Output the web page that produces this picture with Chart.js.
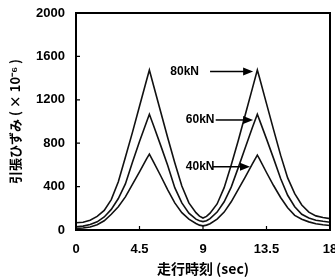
<!DOCTYPE html>
<html>
<head>
<meta charset="utf-8">
<script src="https://cdn.jsdelivr.net/npm/chart.js@4.4.1/dist/chart.umd.min.js"></script>
<style>
  html, body { margin: 0; padding: 0; background: #fff; }
  #wrap { width: 335px; height: 279px; }
</style>
</head>
<body>
<div id="wrap"><canvas id="chart" width="335" height="279"></canvas></div>
<script>
// running time (sec)
const times = [0, 0.5, 1, 1.5, 2, 2.5, 3, 3.5, 4, 4.5, 5, 5.2, 5.5, 6, 6.5, 7, 7.5, 8, 8.5, 8.75,
    9, 9.25, 9.5, 10, 10.5, 11, 11.5, 12, 12.5, 12.85, 13, 13.5, 14, 14.5, 15, 15.5, 16, 16.5, 17, 17.5, 18];
// tensile strain (x10^-6)
const strain80 = [67, 72, 90, 125, 180, 280, 445, 670, 900, 1140, 1380, 1475, 1330, 1090, 850, 620, 405, 250, 160, 128,
    110, 125, 155, 240, 390, 600, 825, 1065, 1305, 1475, 1405, 1165, 925, 690, 480, 335, 230, 165, 130, 115, 105];
const strain60 = [30, 36, 50, 75, 120, 190, 290, 425, 625, 815, 995, 1066, 960, 780, 595, 390, 250, 155, 100, 86,
    77, 85, 105, 165, 260, 395, 575, 760, 945, 1066, 1015, 840, 660, 475, 320, 215, 145, 110, 90, 80, 72];
const strain40 = [15, 18, 28, 48, 85, 145, 215, 305, 420, 535, 655, 700, 625, 500, 370, 250, 160, 100, 60, 45,
    38, 45, 58, 100, 165, 260, 375, 490, 610, 690, 655, 530, 410, 300, 205, 135, 100, 75, 58, 48, 42];
const loads = ['80kN', '60kN', '40kN'];

// labels with arrows, in data units: text centre, height, arrow start/tip
const notes = [
    { text: loads[0], tx: 7.7, y: 1460, from: 9.5, to: 12.55 },
    { text: loads[1], tx: 8.8, y: 1014, from: 9.9, to: 12.55 },
    { text: loads[2], tx: 8.8, y: 583, from: 9.7, to: 12.33 },
];

const framePlugin = {
    id: 'frame',
    afterDatasetsDraw(chart) {
        const { ctx, chartArea: a, scales: { x, y } } = chart;
        ctx.save();
        ctx.strokeStyle = '#000';
        ctx.fillStyle = '#000';
        ctx.lineWidth = 2;
        ctx.strokeRect(a.left, a.top, a.right - a.left, a.bottom - a.top);

        // ticks point inwards
        ctx.lineWidth = 1.2;
        ctx.beginPath();
        x.ticks.forEach(t => {
            const px = x.getPixelForValue(t.value);
            ctx.moveTo(px, a.bottom);
            ctx.lineTo(px, a.bottom - 4);
        });
        y.ticks.forEach(t => {
            const py = y.getPixelForValue(t.value);
            ctx.moveTo(a.left, py);
            ctx.lineTo(a.left + 4, py);
        });
        ctx.stroke();

        ctx.font = 'bold 12px "Liberation Sans", Arial, sans-serif';
        ctx.textAlign = 'center';
        ctx.textBaseline = 'middle';
        notes.forEach(n => {
            const py = y.getPixelForValue(n.y);
            ctx.fillText(n.text, x.getPixelForValue(n.tx), py);
            const x0 = x.getPixelForValue(n.from);
            const x1 = x.getPixelForValue(n.to);
            ctx.lineWidth = 1.5;
            ctx.beginPath();
            ctx.moveTo(x0, py);
            ctx.lineTo(x1 - 8, py);
            ctx.stroke();
            ctx.beginPath();
            ctx.moveTo(x1, py);
            ctx.lineTo(x1 - 10, py - 4);
            ctx.lineTo(x1 - 10, py + 4);
            ctx.closePath();
            ctx.fill();
        });
        ctx.restore();
    }
};

const line = (values) => ({
    data: times.map((t, i) => ({ x: t, y: values[i] })),
    borderColor: '#111',
    borderWidth: 1.6,
    pointRadius: 0,
    tension: 0,
    fill: false,
});

const tickFont = { family: '"Liberation Sans", Arial, sans-serif', size: 13, weight: 'bold' };

new Chart(document.getElementById('chart'), {
    type: 'line',
    data: {
        datasets: [line(strain80), line(strain60), line(strain40)],
    },
    options: {
        responsive: false,
        animation: false,
        layout: { padding: { top: 13, right: 5, left: 0, bottom: 0 } },
        plugins: { legend: { display: false }, tooltip: { enabled: false } },
        scales: {
            x: {
                type: 'linear',
                min: 0,
                max: 18,
                grid: { display: false, drawTicks: false },
                border: { display: false },
                ticks: {
                    stepSize: 4.5,
                    color: '#000',
                    font: tickFont,
                    padding: 12,
                    maxRotation: 0,
                    callback: v => String(v),
                },
                title: {
                    display: true,
                    text: '走行時刻 (sec)',
                    color: '#000',
                    font: { family: '"Noto Sans CJK JP", sans-serif', size: 14, weight: 'bold' },
                    padding: { top: 0, bottom: 2 },
                },
                afterFit: s => { s.height = 49; s.paddingLeft = 0; s.paddingRight = 0; },
            },
            y: {
                min: 0,
                max: 2000,
                grid: { display: false, drawTicks: false },
                border: { display: false },
                ticks: {
                    stepSize: 400,
                    color: '#000',
                    font: tickFont,
                    padding: 11,
                    callback: v => String(v),
                },
                title: {
                    display: true,
                    text: '引張ひずみ ( × 10⁻⁶ )',
                    color: '#000',
                    font: { family: '"Noto Sans CJK JP", sans-serif', size: 13, weight: 'bold' },
                    padding: { top: 7, bottom: 0 },
                },
                afterFit: s => { s.width = 76; s.paddingTop = 0; s.paddingBottom = 0; },
            },
        },
    },
    plugins: [framePlugin],
});
</script>
</body>
</html>
